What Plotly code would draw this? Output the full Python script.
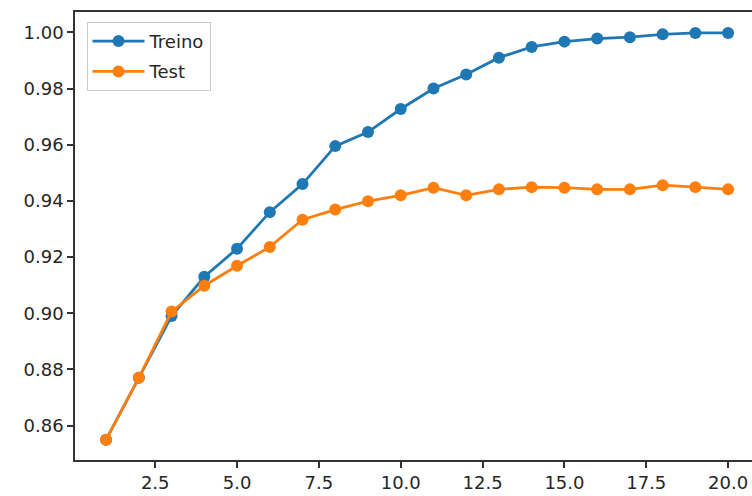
import plotly.graph_objects as go

epochs = list(range(1, 21))
treino = [0.855, 0.877, 0.899, 0.913, 0.923, 0.936, 0.946, 0.9595, 0.9645, 0.9727,
          0.980, 0.985, 0.991, 0.9948, 0.9967, 0.9978, 0.9983, 0.9993, 0.9998, 0.9998]
test = [0.855, 0.877, 0.9006, 0.9098, 0.9169, 0.9236, 0.9333, 0.9369, 0.9399, 0.942,
        0.9447, 0.942, 0.9441, 0.9449, 0.9447, 0.9441, 0.9441, 0.9456, 0.9449, 0.9441]
xticks = [2.5, 5.0, 7.5, 10.0, 12.5, 15.0, 17.5, 20.0]
yticks = [0.86, 0.88, 0.90, 0.92, 0.94, 0.96, 0.98, 1.00]

fig = go.Figure()
fig.add_trace(go.Scatter(x=epochs, y=treino, name="Treino", mode="lines+markers",
                         legendgroup="a",
                         line=dict(color="#1f77b4", width=2.8),
                         marker=dict(color="#1f77b4", size=12)))
fig.add_trace(go.Scatter(x=epochs, y=test, name="Test", mode="lines+markers",
                         legendgroup="b",
                         line=dict(color="#ff7f0e", width=2.8),
                         marker=dict(color="#ff7f0e", size=12)))

axis_common = dict(showgrid=False, zeroline=False, showline=True, linecolor="#333333",
                   linewidth=1.5, ticks="outside", ticklen=6, tickwidth=1.5,
                   tickcolor="#333333", tickfont=dict(size=18, color="#262626"),
                   automargin=False)

fig.update_layout(
    width=752, height=496,
    margin=dict(l=75, r=0, t=12, b=36, autoexpand=False),
    paper_bgcolor="white", plot_bgcolor="white",
    font=dict(family="DejaVu Sans", size=18, color="#262626"),
    xaxis=dict(range=[0.05, 20.73], tickvals=xticks,
               ticktext=[f"{v:.1f}" for v in xticks], mirror=True, **axis_common),
    yaxis=dict(range=[0.84775, 1.00725], tickvals=yticks,
               ticktext=[f"{v:.2f}" for v in yticks], **axis_common),
    legend=dict(x=0.017, y=0.978, xanchor="left", yanchor="top",
                bgcolor="rgba(255,255,255,0.8)", bordercolor="#cccccc", borderwidth=1,
                font=dict(size=18, color="#262626"), traceorder="grouped",
                tracegroupgap=4, itemwidth=52),
    showlegend=True,
)

fig.write_html("out.html", config={"displayModeBar": False},
               post_script="document.body.style.margin='0';document.body.style.overflow='hidden';")
